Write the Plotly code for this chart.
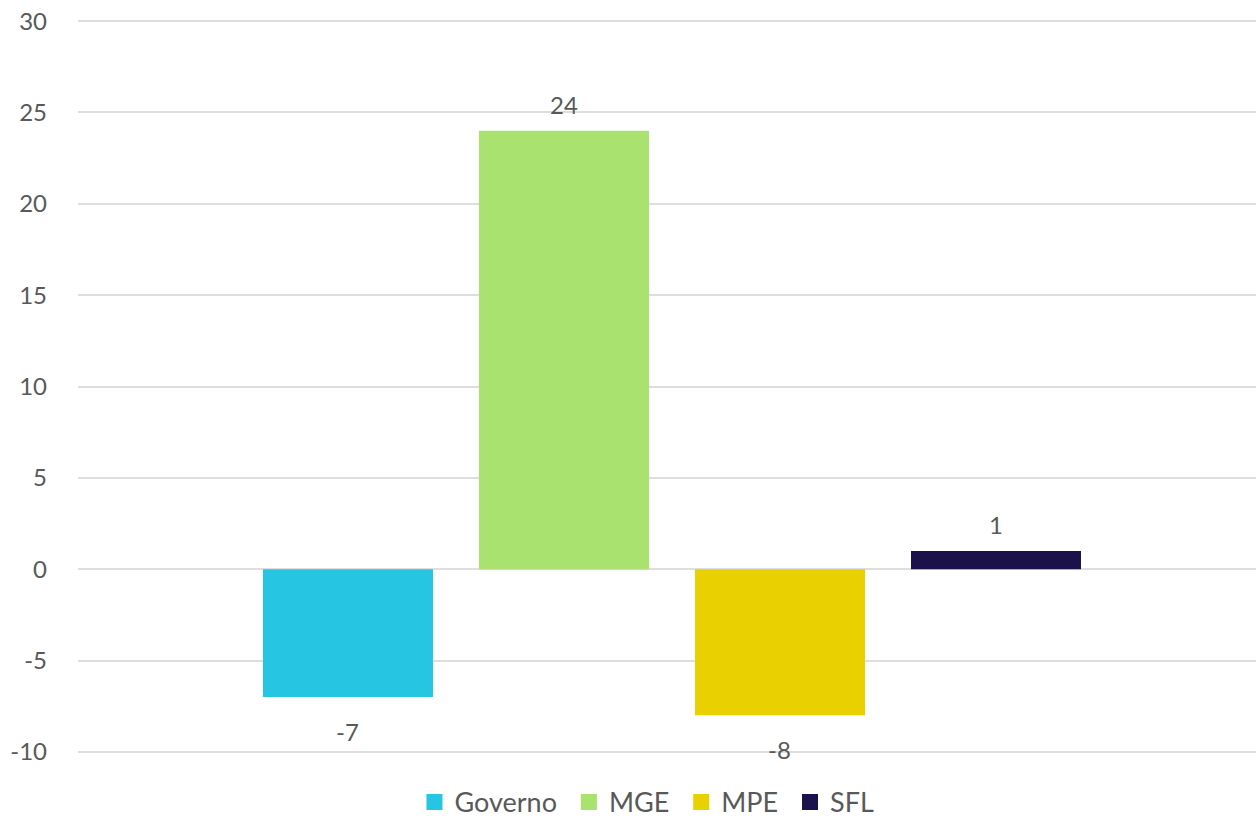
import plotly.graph_objects as go

# Values per series (single category, grouped)
series_names = ["Governo", "MGE", "MPE", "SFL"]
series_values = [-7, 24, -8, 1]
series_colors = ["#26C6E2", "#A9E26E", "#E9D000", "#1B114B"]

y_ticks = [-10, -5, 0, 5, 10, 15, 20, 25, 30]

text_color = "#595959"
font_family = "Lato, 'Open Sans', sans-serif"

fig = go.Figure()
for name, val, col in zip(series_names, series_values, series_colors):
    fig.add_trace(go.Bar(
        x=[0], y=[val], name=name, showlegend=False,
        marker=dict(color=col, line=dict(width=0)),
    ))

# Legend entries with larger square swatches
for name, col in zip(series_names, series_colors):
    fig.add_trace(go.Scatter(
        x=[None], y=[None], name=name + "\u00a0", mode="markers",
        marker=dict(symbol="square", size=18, color=col),
        showlegend=True,
    ))

# Value labels placed off the bar ends
bar_slot = 0.7273 / len(series_values)
for i, val in enumerate(series_values):
    xc = -0.7273 / 2 + bar_slot * (i + 0.5)
    fig.add_annotation(
        x=xc, y=val, text=str(val), showarrow=False,
        yanchor="middle", yshift=26 if val >= 0 else -34,
        font=dict(size=24, color=text_color, family=font_family),
    )

fig.update_layout(
    width=1256, height=824,
    paper_bgcolor="white", plot_bgcolor="white",
    margin=dict(l=78, r=0, t=20, b=71),
    barmode="group", bargap=0.2727, bargroupgap=0.213,
    font=dict(family=font_family, color=text_color, size=24),
    showlegend=True,
    legend=dict(
        orientation="h", xref="container", yref="container",
        x=0.5175, xanchor="center", y=0.056, yanchor="top",
        font=dict(size=27, color=text_color), itemwidth=30,
        traceorder="normal", tracegroupgap=0,
        bgcolor="rgba(0,0,0,0)",
    ),
    xaxis=dict(
        range=[-0.5, 0.4916], showticklabels=False, showgrid=False,
        zeroline=False, showline=False, fixedrange=True,
    ),
    yaxis=dict(
        range=[-10.06, 30.06], tickvals=y_ticks, ticktext=[str(v) for v in y_ticks],
        showgrid=True, gridcolor="#DEDEDE", gridwidth=2,
        zeroline=True, zerolinecolor="#DEDEDE", zerolinewidth=2,
        showline=False, ticks="", ticklabelstandoff=30,
        tickfont=dict(size=24, color=text_color),
    ),
)

fig.write_html("out.html")
